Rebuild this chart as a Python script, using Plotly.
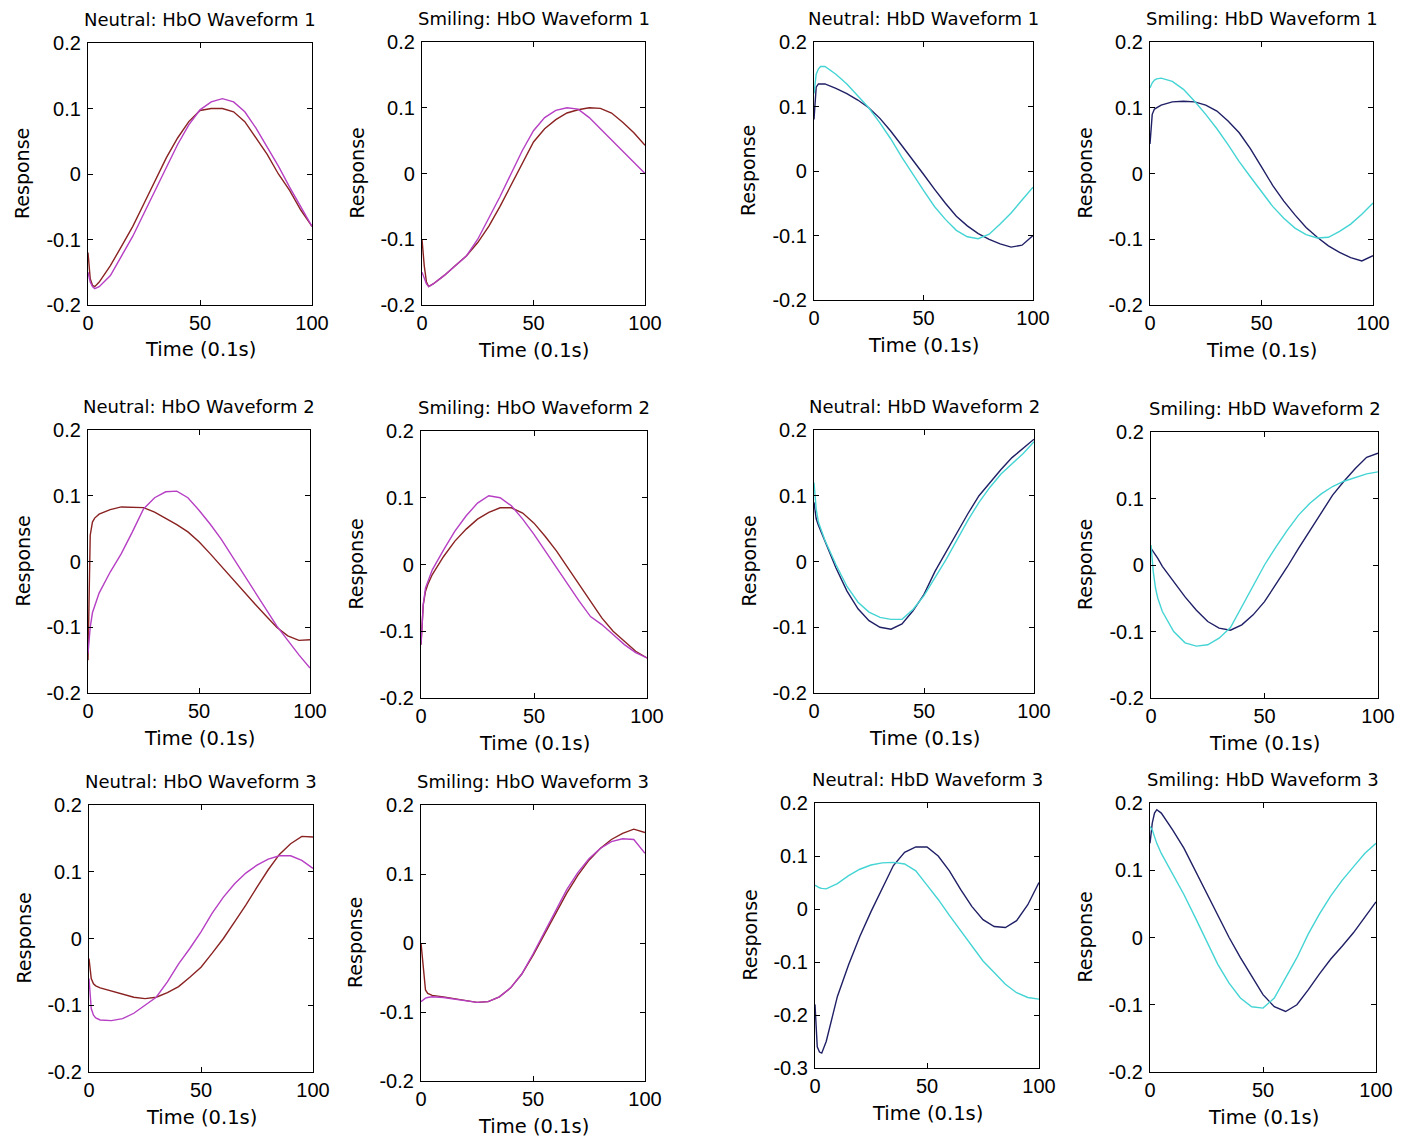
import plotly.graph_objects as go

# time samples (0.1 s units) used for every waveform
T = [0, 1, 2, 3, 5, 10, 15, 20, 25, 30, 35, 40, 45, 50, 55, 60, 65, 70, 75, 80, 85, 90, 95, 100]

# HbO panels: brown and magenta curves
neu_hbo1_a = [-0.12, -0.16, -0.17, -0.172, -0.165, -0.14, -0.11, -0.08, -0.045, -0.01, 0.025, 0.055, 0.08, 0.097, 0.10, 0.10, 0.095, 0.08, 0.055, 0.03, 0.0, -0.025, -0.055, -0.08]
neu_hbo1_b = [-0.15, -0.165, -0.172, -0.175, -0.172, -0.155, -0.125, -0.095, -0.06, -0.025, 0.01, 0.045, 0.075, 0.098, 0.11, 0.115, 0.11, 0.095, 0.07, 0.042, 0.012, -0.02, -0.05, -0.08]
smi_hbo1_a = [-0.10, -0.14, -0.165, -0.172, -0.168, -0.155, -0.14, -0.125, -0.105, -0.08, -0.05, -0.018, 0.015, 0.048, 0.068, 0.082, 0.092, 0.097, 0.1, 0.099, 0.092, 0.078, 0.062, 0.043]
smi_hbo1_b = [-0.15, -0.16, -0.168, -0.172, -0.168, -0.155, -0.14, -0.125, -0.1, -0.068, -0.035, 0.0, 0.035, 0.065, 0.085, 0.096, 0.1, 0.098, 0.085, 0.068, 0.051, 0.034, 0.017, 0.0]
neu_hbo2_a = [-0.15, 0.04, 0.06, 0.066, 0.072, 0.079, 0.083, 0.083, 0.082, 0.075, 0.066, 0.056, 0.045, 0.03, 0.012, -0.007, -0.026, -0.046, -0.064, -0.082, -0.1, -0.113, -0.12, -0.119]
neu_hbo2_b = [-0.14, -0.1, -0.078, -0.068, -0.048, -0.016, 0.012, 0.045, 0.08, 0.097, 0.106, 0.107, 0.097, 0.078, 0.057, 0.034, 0.008, -0.018, -0.045, -0.072, -0.098, -0.12, -0.142, -0.162]
smi_hbo2_a = [-0.12, -0.06, -0.04, -0.03, -0.015, 0.012, 0.035, 0.053, 0.068, 0.078, 0.085, 0.085, 0.077, 0.062, 0.042, 0.02, -0.005, -0.03, -0.055, -0.08, -0.1, -0.115, -0.13, -0.14]
smi_hbo2_b = [-0.12, -0.06, -0.035, -0.025, -0.008, 0.022, 0.05, 0.073, 0.092, 0.103, 0.1, 0.088, 0.068, 0.045, 0.02, -0.005, -0.03, -0.055, -0.078, -0.09, -0.105, -0.12, -0.132, -0.14]
neu_hbo3_a = [-0.03, -0.06, -0.068, -0.071, -0.074, -0.079, -0.084, -0.088, -0.09, -0.088, -0.081, -0.072, -0.058, -0.043, -0.022, 0.0, 0.025, 0.05, 0.077, 0.103, 0.126, 0.142, 0.153, 0.152]
neu_hbo3_b = [-0.06, -0.105, -0.115, -0.119, -0.122, -0.123, -0.12, -0.112, -0.1, -0.088, -0.065, -0.038, -0.015, 0.01, 0.038, 0.062, 0.082, 0.098, 0.11, 0.119, 0.124, 0.124, 0.117, 0.105]
smi_hbo3_a = [0.0, -0.04, -0.068, -0.073, -0.076, -0.078, -0.081, -0.084, -0.086, -0.085, -0.078, -0.065, -0.045, -0.018, 0.012, 0.043, 0.072, 0.098, 0.12, 0.137, 0.15, 0.159, 0.165, 0.16]
smi_hbo3_b = [-0.085, -0.082, -0.08, -0.079, -0.078, -0.079, -0.081, -0.084, -0.086, -0.085, -0.078, -0.065, -0.045, -0.016, 0.015, 0.047, 0.077, 0.102, 0.122, 0.137, 0.147, 0.151, 0.15, 0.13]

# HbD panels: navy and cyan curves
neu_hbd1_a = [0.08, 0.13, 0.135, 0.135, 0.135, 0.128, 0.12, 0.11, 0.098, 0.082, 0.062, 0.04, 0.018, -0.005, -0.028, -0.05, -0.07, -0.085, -0.097, -0.106, -0.113, -0.118, -0.115, -0.1]
neu_hbd1_b = [0.12, 0.15, 0.158, 0.162, 0.162, 0.15, 0.135, 0.117, 0.098, 0.075, 0.05, 0.022, -0.005, -0.03, -0.055, -0.075, -0.092, -0.102, -0.105, -0.098, -0.082, -0.065, -0.045, -0.025]
smi_hbd1_a = [0.045, 0.09, 0.098, 0.1, 0.104, 0.109, 0.11, 0.109, 0.104, 0.095, 0.08, 0.062, 0.038, 0.01, -0.018, -0.042, -0.063, -0.082, -0.097, -0.11, -0.12, -0.128, -0.133, -0.125]
smi_hbd1_b = [0.13, 0.138, 0.142, 0.144, 0.145, 0.14, 0.128, 0.11, 0.09, 0.068, 0.044, 0.018, -0.005, -0.028, -0.05, -0.068, -0.083, -0.093, -0.098, -0.097, -0.088, -0.077, -0.062, -0.045]
neu_hbd2_a = [0.09, 0.065, 0.055, 0.047, 0.03, -0.01, -0.045, -0.072, -0.09, -0.1, -0.103, -0.095, -0.075, -0.05, -0.015, 0.015, 0.045, 0.073, 0.1, 0.12, 0.14, 0.158, 0.172, 0.186]
neu_hbd2_b = [0.12, 0.08, 0.06, 0.05, 0.032, -0.005, -0.038, -0.062, -0.077, -0.085, -0.088, -0.088, -0.073, -0.052, -0.025, 0.003, 0.033, 0.063, 0.09, 0.113, 0.133, 0.148, 0.164, 0.182]
smi_hbd2_a = [0.025, 0.02, 0.015, 0.01, -0.002, -0.025, -0.048, -0.068, -0.085, -0.095, -0.098, -0.09, -0.075, -0.055, -0.03, -0.003, 0.025, 0.052, 0.08, 0.105, 0.126, 0.145, 0.162, 0.168]
smi_hbd2_b = [0.03, -0.01, -0.035, -0.05, -0.07, -0.1, -0.117, -0.122, -0.12, -0.11, -0.094, -0.063, -0.032, 0.0, 0.027, 0.052, 0.075, 0.093, 0.107, 0.118, 0.126, 0.132, 0.137, 0.14]
neu_hbd3_a = [-0.18, -0.26, -0.27, -0.272, -0.25, -0.165, -0.105, -0.052, -0.005, 0.04, 0.082, 0.107, 0.117, 0.117, 0.1, 0.072, 0.037, 0.005, -0.02, -0.033, -0.035, -0.022, 0.008, 0.05]
neu_hbd3_b = [0.045, 0.042, 0.04, 0.039, 0.038, 0.048, 0.063, 0.075, 0.083, 0.087, 0.088, 0.085, 0.072, 0.045, 0.018, -0.012, -0.04, -0.07, -0.098, -0.12, -0.142, -0.158, -0.167, -0.17]
smi_hbd3_a = [0.14, 0.17, 0.185, 0.19, 0.185, 0.16, 0.133, 0.1, 0.065, 0.032, 0.0, -0.03, -0.058, -0.085, -0.103, -0.11, -0.1, -0.078, -0.054, -0.032, -0.013, 0.007, 0.03, 0.053]
smi_hbd3_b = [0.165, 0.16, 0.15, 0.14, 0.125, 0.095, 0.064, 0.03, -0.005, -0.04, -0.068, -0.09, -0.103, -0.105, -0.09, -0.06, -0.03, 0.005, 0.035, 0.062, 0.085, 0.105, 0.125, 0.14]

titles = [
    "Neutral: HbO Waveform 1", "Smiling: HbO Waveform 1", "Neutral: HbD Waveform 1", "Smiling: HbD Waveform 1",
    "Neutral: HbO Waveform 2", "Smiling: HbO Waveform 2", "Neutral: HbD Waveform 2", "Smiling: HbD Waveform 2",
    "Neutral: HbO Waveform 3", "Smiling: HbO Waveform 3", "Neutral: HbD Waveform 3", "Smiling: HbD Waveform 3",
]
curves = [
    (neu_hbo1_a, neu_hbo1_b), (smi_hbo1_a, smi_hbo1_b), (neu_hbd1_a, neu_hbd1_b), (smi_hbd1_a, smi_hbd1_b),
    (neu_hbo2_a, neu_hbo2_b), (smi_hbo2_a, smi_hbo2_b), (neu_hbd2_a, neu_hbd2_b), (smi_hbd2_a, smi_hbd2_b),
    (neu_hbo3_a, neu_hbo3_b), (smi_hbo3_a, smi_hbo3_b), (neu_hbd3_a, neu_hbd3_b), (smi_hbd3_a, smi_hbd3_b),
]
y_ticks = [-0.2, -0.1, 0, 0.1, 0.2]
y_ticks_deep = [-0.3, -0.2, -0.1, 0, 0.1, 0.2]
x_ticks = [0, 50, 100]

# the page body has an 8px margin, so the figure is 16px smaller than the window
PAD = 8
W, H = 1404 - 2 * PAD, 1147 - 2 * PAD
# plot boxes in window pixels: left, right, top, bottom
boxes = [
    (88, 312, 43, 305), (422, 645, 42, 305), (814, 1033, 42, 300), (1150, 1373, 42, 305),
    (88, 310, 430, 693), (421, 647, 431, 698), (814, 1034, 430, 693), (1151, 1378, 432, 698),
    (89, 313, 805, 1072), (421, 645, 805, 1081), (815, 1039, 803, 1068), (1150, 1376, 803, 1072),
]

HBO_COLORS = ("#8a2222", "#b63fc4")
HBD_COLORS = ("#1f1f66", "#45d4d4")
FONT = "Liberation Sans, Arial, sans-serif"
LABEL_FONT = "DejaVu Sans, Liberation Sans, sans-serif"

fig = go.Figure()
annotations = []

for i, (title, (ya, yb), box) in enumerate(zip(titles, curves, boxes)):
    n = i + 1
    sfx = "" if n == 1 else str(n)
    colors = HBO_COLORS if "HbO" in title else HBD_COLORS
    for ys, c in zip((ya, yb), colors):
        fig.add_trace(go.Scatter(x=T, y=ys, mode="lines", line=dict(color=c, width=1.4),
                                 xaxis="x" + sfx, yaxis="y" + sfx, showlegend=False))

    left, right, top, bottom = [v - PAD for v in box]
    yt = y_ticks_deep if n == 11 else y_ticks
    fig.update_layout(**{
        "xaxis" + sfx: dict(domain=[left / W, right / W], anchor="y" + sfx, range=[0, 100],
                            tickvals=x_ticks, ticktext=[str(v) for v in x_ticks]),
        "yaxis" + sfx: dict(domain=[1 - bottom / H, 1 - top / H], anchor="x" + sfx,
                            range=[yt[0], yt[-1]], tickvals=yt,
                            ticktext=["0" if v == 0 else f"{v:g}" for v in yt]),
    })

    ref = dict(xref="x" + sfx + " domain", yref="y" + sfx + " domain", showarrow=False)
    annotations.append(dict(text=title, x=0.5, y=1, xanchor="center", yanchor="bottom", yshift=11,
                            font=dict(size=18, family=LABEL_FONT), **ref))
    annotations.append(dict(text="Response", x=0, y=0.5, xanchor="center", yanchor="middle",
                            xshift=-66, textangle=-90, font=dict(size=19, family=LABEL_FONT), **ref))
    annotations.append(dict(text="Time (0.1s)", x=0.5, y=0, xanchor="center", yanchor="middle",
                            yshift=-45, font=dict(size=19.5, family=LABEL_FONT), **ref))

axis_style = dict(showline=True, mirror="ticks", linecolor="black", linewidth=1.3,
                  ticks="inside", ticklen=5, tickcolor="black", tickwidth=1.3,
                  showgrid=False, zeroline=False, automargin=False,
                  tickfont=dict(size=20, color="black"))
fig.update_xaxes(**axis_style)
fig.update_yaxes(**axis_style, ticklabelstandoff=2)

fig.update_layout(
    width=W, height=H,
    margin=dict(l=0, r=0, t=0, b=0, autoexpand=False),
    paper_bgcolor="white", plot_bgcolor="white",
    font=dict(family=FONT, color="black"),
    showlegend=False,
    annotations=annotations,
)

fig.write_html("out.html")
